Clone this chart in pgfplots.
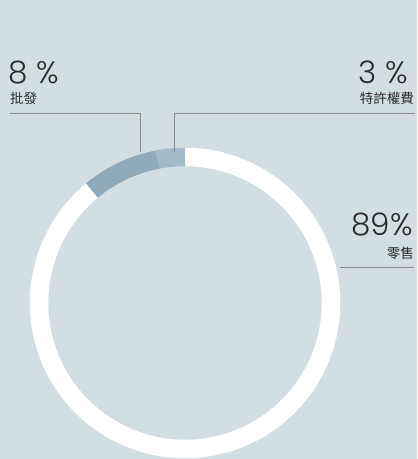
\documentclass[border=0pt]{standalone}
\usepackage{pgfplots}
\pgfplotsset{compat=1.18}
\usepackage{fontspec}
\newfontfamily\numfont{Poppins Light}
\newfontfamily\cjk{Noto Sans CJK TC}
\definecolor{bgcol}{HTML}{D3DEE2}
\definecolor{whole}{HTML}{8EAABB}
\definecolor{fran}{HTML}{A3BACB}
\definecolor{leader}{HTML}{8A8C8C}
\definecolor{txt}{HTML}{2A2A2A}
% shares in percent
\def\franchise{3}
\def\wholesale{8}
\def\retail{89}
\begin{document}
\begin{tikzpicture}
\begin{axis}[
  x=1bp, y=1bp, scale only axis,
  xmin=0, xmax=417, ymin=0, ymax=459, y dir=reverse,
  hide axis, clip=false,
]
\fill[bgcol] (axis cs:0,0) rectangle (axis cs:417,459);
% ring segments, starting at the top and going counter-clockwise
\addplot[draw=white, line width=18.5bp, domain={90+3.6*(\franchise+\wholesale)}:450, samples=200, smooth]
  ({185+146*cos(x)},{303-146*sin(x)});
\addplot[draw=whole, line width=18.5bp, domain={90+3.6*\franchise}:{90+3.6*(\franchise+\wholesale)}, samples=30, smooth]
  ({185+146*cos(x)},{303-146*sin(x)});
\addplot[draw=fran, line width=18.5bp, domain=90:{90+3.6*\franchise}, samples=15, smooth]
  ({185+146*cos(x)},{303-146*sin(x)});
% leader lines
\draw[leader, line width=0.8bp] (axis cs:10,113) -- (axis cs:140,113) -- (axis cs:140,152);
\draw[leader, line width=0.8bp] (axis cs:174,152) -- (axis cs:174,113) -- (axis cs:415,113);
\draw[leader, line width=0.8bp] (axis cs:340,267) -- (axis cs:414,267);
% labels
\node[anchor=base west, inner sep=0, text=txt, font=\numfont\fontsize{31bp}{31bp}\selectfont] at (axis cs:8,83.5) {\wholesale\ \%};
\node[anchor=base west, inner sep=0, text=txt, font=\cjk\fontsize{13.5bp}{14bp}\selectfont] at (axis cs:10,104) {批發};
\node[anchor=base east, inner sep=0, text=txt, font=\numfont\fontsize{31bp}{31bp}\selectfont] at (axis cs:408,83.5) {\franchise\ \%};
\node[anchor=base east, inner sep=0, text=txt, font=\cjk\fontsize{13.5bp}{14bp}\selectfont] at (axis cs:414,104) {特許權費};
\node[anchor=base east, inner sep=0, text=txt, font=\numfont\fontsize{31bp}{31bp}\selectfont] at (axis cs:413,235) {\retail\%};
\node[anchor=base east, inner sep=0, text=txt, font=\cjk\fontsize{13.5bp}{14bp}\selectfont] at (axis cs:414,258) {零售};
\end{axis}
\end{tikzpicture}
\end{document}
